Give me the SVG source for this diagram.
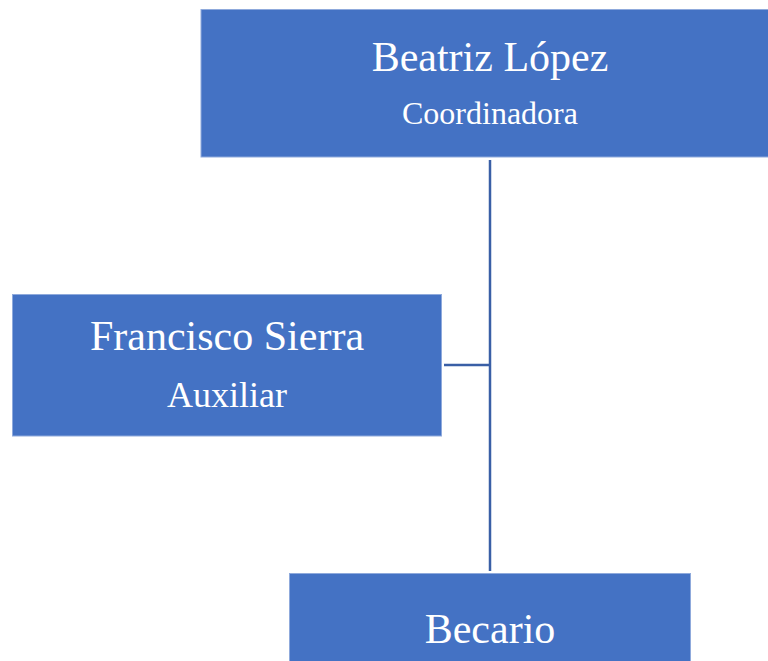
<svg xmlns="http://www.w3.org/2000/svg" width="768" height="661" viewBox="0 0 768 661">
<style>
.box{fill:#4472C4;stroke:#8FAADC;stroke-width:1}
.t{font-family:"Liberation Serif","Times New Roman",serif;fill:#FFFFFF;text-anchor:middle}
.conn{stroke:#3A5FA6;stroke-width:2.5;fill:none}
</style>
<rect width="768" height="661" fill="#FFFFFF"/>
<g id="connectors">
<line class="conn" x1="490" y1="160" x2="490" y2="571"/>
<line class="conn" x1="444" y1="365" x2="490" y2="365"/>
</g>
<g id="node-beatriz">
<rect class="box" x="201" y="9.5" width="580" height="147.5"/>
<text class="t" x="490" y="71" font-size="42">Beatriz López</text>
<text class="t" x="490" y="124" font-size="32">Coordinadora</text>
</g>
<g id="node-francisco">
<rect class="box" x="12.5" y="294.5" width="429" height="141.5"/>
<text class="t" x="227" y="350" font-size="42">Francisco Sierra</text>
<text class="t" x="227" y="407" font-size="36">Auxiliar</text>
</g>
<g id="node-becario">
<rect class="box" x="289.5" y="573.5" width="401" height="100"/>
<text class="t" x="490" y="643" font-size="42">Becario</text>
</g>
</svg>
